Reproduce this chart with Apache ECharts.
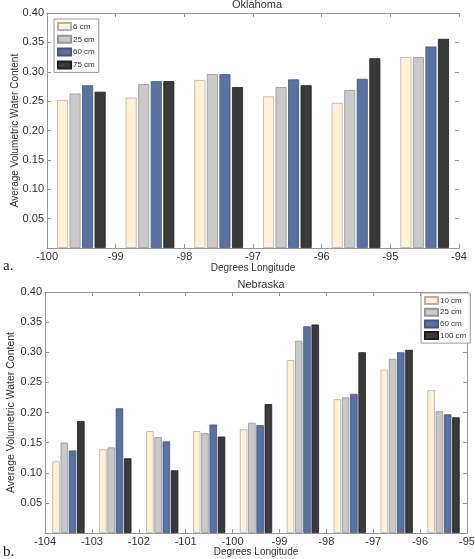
<!DOCTYPE html>
<html>
<head>
<meta charset="utf-8">
<script src="https://cdn.jsdelivr.net/npm/echarts@6/dist/echarts.min.js"></script>
<style>
html, body { margin: 0; padding: 0; background: #fff; }
#chart { width: 475px; height: 559px; }
</style>
</head>
<body>
<div id="chart"></div>
<script>
// a. Oklahoma
const okLon = [-99.5, -98.5, -97.5, -96.5, -95.5, -94.5];
const okDepths = ['6 cm', '25 cm', '60 cm', '75 cm'];
const ok6 = [0.252, 0.256, 0.286, 0.258, 0.247, 0.325];
const ok25 = [0.263, 0.279, 0.296, 0.274, 0.269, 0.325];
const ok60 = [0.277, 0.284, 0.296, 0.287, 0.288, 0.343];
const ok75 = [0.266, 0.284, 0.274, 0.277, 0.323, 0.356];

// b. Nebraska
const neLon = [-103.5, -102.5, -101.5, -100.5, -99.5, -98.5, -97.5, -96.5, -95.5];
const neDepths = ['10 cm', '25 cm', '60 cm', '100 cm'];
const ne10 = [0.119, 0.139, 0.169, 0.169, 0.172, 0.287, 0.222, 0.271, 0.237];
const ne25 = [0.150, 0.142, 0.159, 0.166, 0.183, 0.319, 0.225, 0.289, 0.202];
const ne60 = [0.137, 0.207, 0.152, 0.180, 0.179, 0.343, 0.231, 0.300, 0.197];
const ne100 = [0.186, 0.124, 0.104, 0.160, 0.214, 0.346, 0.300, 0.304, 0.192];

const fills = ['#fdf1da', '#c9c9c9', '#5b71a0', '#3a3a3a'];
const edges = ['#b9b1a3', '#979797', '#43577f', '#1e1e1e'];
const FONT = 'Liberation Sans';

const chart = echarts.init(document.getElementById('chart'));

function pairs(lon, vals) {
    return lon.map((x, i) => [x, vals[i]]);
}

function xAxes(grid, min, max, gap) {
    const base = {
        gridIndex: grid, type: 'value', min: min, max: max, interval: 1,
        splitLine: { show: false },
        axisLine: { show: true, onZero: false, lineStyle: { color: '#999', width: 1 } },
        axisTick: { show: true, inside: true, length: 4, lineStyle: { color: '#999' } }
    };
    return [
        Object.assign({}, base, {
            position: 'bottom',
            axisLabel: { margin: 3, fontSize: 11, color: '#333', fontFamily: FONT, showMinLabel: true, showMaxLabel: true },
            name: 'Degrees Longitude', nameLocation: 'middle', nameGap: gap, nameMoveOverlap: false,
            nameTextStyle: { fontSize: 10, color: '#333', fontFamily: FONT }
        }),
        Object.assign({}, base, { position: 'top', axisLabel: { show: false } })
    ];
}

function yAxes(grid, rightLine, gap, fs, nameFs) {
    const base = {
        gridIndex: grid, type: 'value', min: 0, max: 0.4, interval: 0.05,
        splitLine: { show: false },
        axisTick: { show: true, inside: true, length: 4, lineStyle: { color: '#999' } }
    };
    return [
        Object.assign({}, base, {
            position: 'left',
            axisLine: { show: true, lineStyle: { color: '#999' } },
            axisLabel: {
                margin: 3, fontSize: fs, color: '#333', fontFamily: FONT,
                formatter: v => v === 0 ? '' : v.toFixed(2)
            },
            name: 'Average Volumetric Water Content', nameLocation: 'middle', nameGap: gap, nameMoveOverlap: false,
            nameTextStyle: { fontSize: nameFs, color: '#333', fontFamily: FONT }
        }),
        Object.assign({}, base, {
            position: 'right',
            axisLine: { show: rightLine, lineStyle: { color: '#999' } },
            axisLabel: { show: false }
        })
    ];
}

function barSeries(names, lists, lon, xi, yi, width, gap) {
    return names.map((name, k) => ({
        name: name,
        type: 'bar',
        xAxisIndex: xi,
        yAxisIndex: yi,
        barWidth: width,
        barGap: gap,
        itemStyle: { color: fills[k], borderColor: edges[k], borderWidth: 0.8 },
        data: pairs(lon, lists[k])
    }));
}

function legendFor(names, left, top, gap) {
    return {
        data: names,
        orient: 'vertical',
        left: left, top: top,
        icon: 'rect',
        itemWidth: 13, itemHeight: 7, itemGap: gap,
        padding: [3, 4, 3, 3],
        backgroundColor: '#fff',
        borderColor: '#999', borderWidth: 1,
        textStyle: { fontSize: 8, color: '#333', fontFamily: FONT, padding: [0, 0, 0, -3] },
        selectedMode: false
    };
}

chart.setOption({
    animation: false,
    backgroundColor: '#fff',
    title: [
        { text: 'Oklahoma', left: 252, top: -6, textAlign: 'center',
          textStyle: { fontSize: 11, fontWeight: 'normal', color: '#333', fontFamily: FONT } },
        { text: 'Nebraska', left: 256, top: 274, textAlign: 'center',
          textStyle: { fontSize: 11, fontWeight: 'normal', color: '#333', fontFamily: FONT } }
    ],
    legend: [
        legendFor(okDepths, 54, 19, 3.8),
        legendFor(neDepths, 421, 293, 2.7)
    ],
    grid: [
        { left: 47, top: 13, width: 412, height: 235, outerBoundsMode: 'none' },
        { left: 45, top: 292, width: 422, height: 241, outerBoundsMode: 'none' }
    ],
    xAxis: xAxes(0, -100, -94, 15).concat(xAxes(1, -104, -95, 14)),
    yAxis: yAxes(0, false, 27, 11, 10).concat(yAxes(1, true, 28, 11, 10.5)),
    series: barSeries(okDepths, [ok6, ok25, ok60, ok75], okLon, 0, 0, 11, '14%')
        .concat(barSeries(neDepths, [ne10, ne25, ne60, ne100], neLon, 2, 2, 7.5, '10%')),
    graphic: [
        { type: 'text', left: 3, top: 259, style: { text: 'a.', fontSize: 15, fill: '#222', fontFamily: 'Liberation Serif' } },
        { type: 'text', left: 3, top: 545, style: { text: 'b.', fontSize: 15, fill: '#222', fontFamily: 'Liberation Serif' } }
    ]
});
</script>
</body>
</html>
